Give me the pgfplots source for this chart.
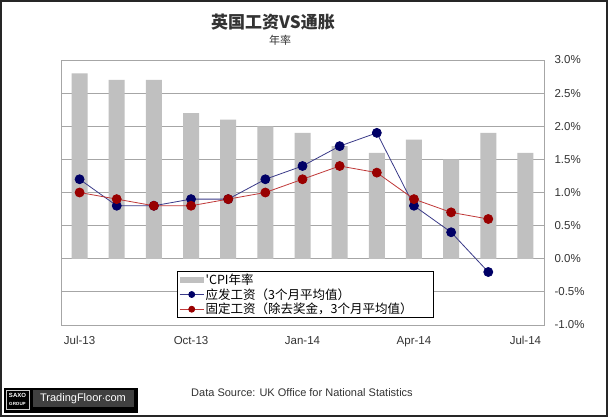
\documentclass[border=0pt]{standalone}
\usepackage{fontspec}
\setmainfont{Liberation Sans}
\newfontfamily\cjk{Noto Sans CJK SC}
\usepackage{pgfplots}
\pgfplotsset{compat=1.18}
\definecolor{cpigray}{HTML}{C0C0C0}
\definecolor{navyc}{HTML}{000066}
\definecolor{navyl}{HTML}{3A3A88}
\definecolor{dred}{HTML}{990000}
\definecolor{redl}{HTML}{C03838}
\definecolor{gridgray}{HTML}{A6A6A6}
\definecolor{txt}{HTML}{333333}
\begin{document}
\begin{tikzpicture}[x=1bp,y=1bp]
\path[use as bounding box] (0,0) rectangle (608,417);
\fill[white] (0,0) rectangle (608,417);
\begin{axis}[
  at={(61bp,92bp)}, anchor=south west,
  scale only axis, width=483bp, height=265bp,
  xmin=-0.5, xmax=12.5, ymin=-1, ymax=3,
  axis line style={gridgray, line width=0.9bp},
  ytick={-1,-0.5,0,0.5,1,1.5,2,2.5,3},
  yticklabels={-1.0\%,-0.5\%,0.0\%,0.5\%,1.0\%,1.5\%,2.0\%,2.5\%,3.0\%},
  yticklabel pos=right,
  ymajorgrids, grid style={gridgray, line width=0.9bp},
  xtick={0,3,6,9,12},
  xticklabels={Jul-13,Oct-13,Jan-14,Apr-14,Jul-14},
  major tick length=0pt,
  tick label style={font=\fontsize{11.5bp}{13bp}\selectfont, text=txt},
  yticklabel style={xshift=7bp},
  xticklabel style={yshift=-8bp},
  legend style={at={(rel axis cs:0.24,0.204)}, anchor=north west,
    draw=black, line width=0.8bp, fill=white,
    font=\cjk\fontsize{12.5bp}{14bp}\selectfont,
    inner xsep=2bp, inner ysep=1bp, row sep=-0.5bp,
    nodes={inner sep=1.5bp, text width=224bp, align=left}},
  legend cell align=left,
]
\addplot[ybar, bar width=16bp, fill=cpigray, draw=none,
  legend image code/.code={\fill[cpigray] (0bp,-3bp) rectangle (24bp,3bp);}]
  coordinates {(0,2.8) (1,2.7) (2,2.7) (3,2.2) (4,2.1) (5,2.0) (6,1.9) (7,1.7) (8,1.6) (9,1.8) (10,1.5) (11,1.9) (12,1.6)};
\addlegendentry{'CPI年率}
\addplot[navyl, line width=0.8bp, mark=*, mark size=4.5bp, mark options={fill=navyc, draw=navyc},
  legend image code/.code={\draw[navyl, line width=0.8bp] (0bp,0bp) -- (24bp,0bp); \fill[navyc] (12bp,0bp) circle (3bp);}]
  coordinates {(0,1.2) (1,0.8) (2,0.8) (3,0.9) (4,0.9) (5,1.2) (6,1.4) (7,1.7) (8,1.9) (9,0.8) (10,0.4) (11,-0.2)};
\addlegendentry{应发工资（3个月平均值）}
\addplot[redl, line width=0.8bp, mark=*, mark size=4.5bp, mark options={fill=dred, draw=dred},
  legend image code/.code={\draw[redl, line width=0.8bp] (0bp,0bp) -- (24bp,0bp); \fill[dred] (12bp,0bp) circle (3bp);}]
  coordinates {(0,1.0) (1,0.9) (2,0.8) (3,0.8) (4,0.9) (5,1.0) (6,1.2) (7,1.4) (8,1.3) (9,0.9) (10,0.7) (11,0.6)};
\addlegendentry{固定工资（除去奖金，3个月平均值）}
\end{axis}
\node[font=\cjk\bfseries\fontsize{17bp}{19bp}\selectfont, text=txt] at (273,395) {英国工资VS通胀};
\node[font=\cjk\fontsize{11bp}{13bp}\selectfont, text=txt] at (280,377) {年率};
\node[font=\fontsize{11bp}{13bp}\selectfont, text=txt] at (302,24) {Data Source: UK Office for National Statistics};
% logo
\fill[black] (4,4) rectangle (138,29);
\fill[black!75] (33,10) rectangle (134,27);
\node[text=white, font=\fontsize{11bp}{12bp}\selectfont] at (83,18.5) {TradingFloor$\cdot$com};
\draw[white!80!black, line width=0.6bp] (6,8) rectangle (29,27);
\node[text=white, font=\bfseries\fontsize{6bp}{6bp}\selectfont] at (17.5,21.5) {SAXO};
\node[text=white, font=\bfseries\fontsize{4.5bp}{5bp}\selectfont] at (17.5,13) {GROUP};
\draw[black!85, line width=2bp] (1,1) rectangle (607,416);
\end{tikzpicture}
\end{document}
